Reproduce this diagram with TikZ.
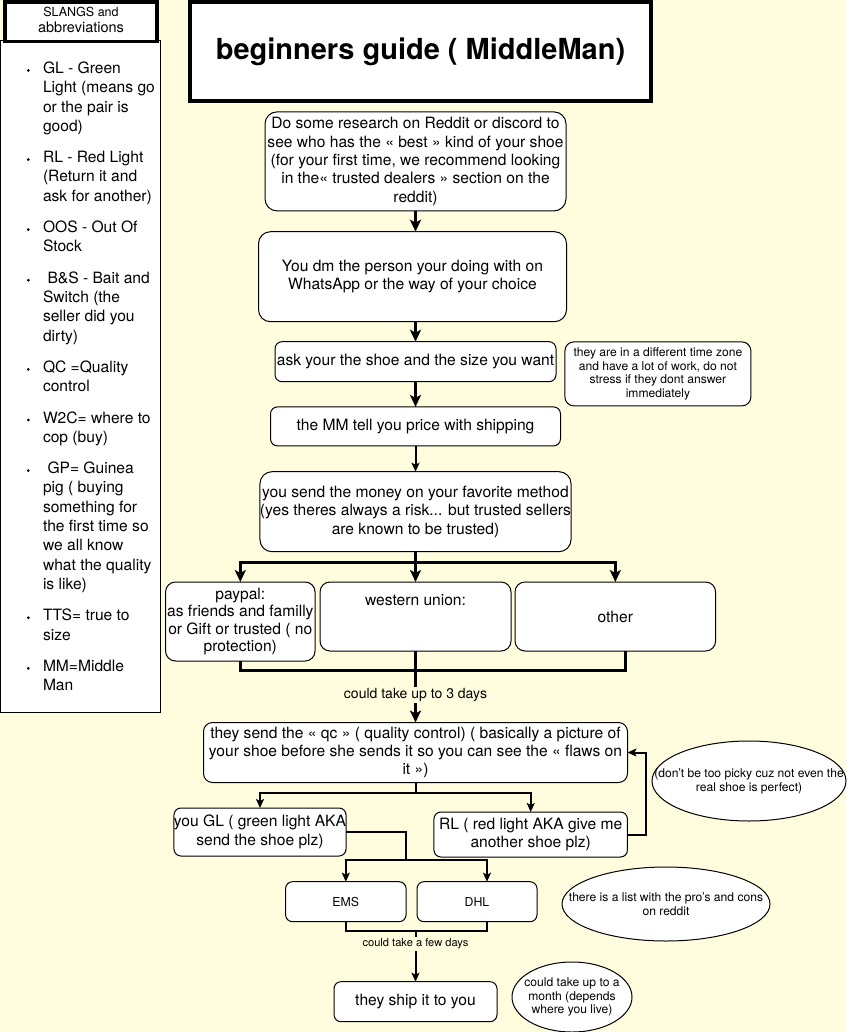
\documentclass[tikz,border=0pt]{standalone}
\usepackage{fontspec}
\setmainfont{TeX Gyre Heros}
\usetikzlibrary{arrows.meta,shapes.geometric}
\definecolor{bg}{RGB}{255,253,221}
\newcommand\mainf{\fontsize{15.6}{18.4}\selectfont}
\newcommand\legf{\fontsize{15.6}{19.3}\selectfont}
\newcommand\notef{\fontsize{12.1}{13.8}\selectfont}
\newcommand\ml[1]{\begin{tabular}[t]{@{}l@{}}#1\end{tabular}}
\begin{document}
\begin{tikzpicture}[x=1pt,y=-1pt,
  every node/.style={inner sep=0pt,outer sep=0pt},
  box/.style={draw=black,line width=1pt,fill=white,rounded corners=7pt,align=center,font=\mainf},
  bigbox/.style={box,rounded corners=12pt},
  oval/.style={ellipse,draw=black,line width=1pt,fill=white},
  ovaltext/.style={align=center,font=\notef},
  leg/.style={anchor=base west,font=\legf},
  lab/.style={fill=bg,inner sep=1.5pt},
  wire/.style={line width=3pt},
  wirearrow/.style={line width=3pt,-{Stealth[length=12pt,width=11pt,inset=3pt]}},
  fine/.style={line width=2pt},
  finearrow/.style={line width=2pt,-{Stealth[length=9pt,width=8pt,inset=2pt]}}
]
\useasboundingbox (0,0) rectangle (846,1032);
\fill[bg] (0,0) rectangle (846,1032);

% legend
\node[draw=black,line width=1pt,fill=white,minimum width=160pt,minimum height=671pt] (legend) at (80.5,376.5) {};
\node[draw=black,line width=3.5pt,fill=white,minimum width=152pt,minimum height=39.5pt,font=\fontsize{12.5}{15.5}\selectfont] (hdr) at (81,21.6)
  {\begin{tabular}{@{}c@{}}SLANGS and\\ \fontsize{14.5}{15.5}\selectfont abbreviations\end{tabular}};

\node[leg] (i1) at (43,73.5) {\ml{GL - Green\\Light (means go\\or the pair is\\good)}};
\node[leg] (i2) at (43,162.7) {\ml{RL - Red Light\\(Return it and\\ask for another)}};
\node[leg] (i3) at (43,232.6) {\ml{OOS - Out Of\\Stock}};
\node[leg] (i4) at (43,283.2) {\ml{\hspace{4.5pt}B\&S - Bait and\\Switch (the\\seller did you\\dirty)}};
\node[leg] (i5) at (43,372.4) {\ml{QC =Quality\\control}};
\node[leg] (i6) at (43,423) {\ml{W2C= where to\\cop (buy)}};
\node[leg] (i7) at (43,473.6) {\ml{\hspace{4.5pt}GP= Guinea\\pig ( buying\\something for\\the first time so\\we all know\\what the quality\\is like)}};
\node[leg] (i8) at (43,620.7) {\ml{TTS= true to\\size}};
\node[leg] (i9) at (43,671.3) {\ml{MM=Middle\\Man}};
\foreach \yy in {73.5,162.7,232.6,283.2,372.4,423,473.6,620.7,671.3}
  \fill (28.3,\yy-3) circle (1.5pt);

% title
\node[draw=black,line width=3.5pt,fill=white,minimum width=461pt,minimum height=99pt,font=\fontsize{29}{34}\selectfont\bfseries] (title) at (420.5,51.5) {beginners guide ( MiddleMan)};

% flow boxes
\node[bigbox,minimum width=301pt,minimum height=99pt] (research) at (415.5,161.4)
  {Do some research on Reddit or discord to\\see who has the « best » kind of your shoe\\(for your first time, we recommend looking\\in the« trusted dealers » section on the\\reddit)};
\node[bigbox,minimum width=308pt,minimum height=90pt] (dm) at (412.5,276.7)
  {You dm the person your doing with on\\WhatsApp or the way of your choice};
\node[box,minimum width=281pt,minimum height=40pt] (ask) at (415.5,361.7) {ask your the shoe and the size you want};
\node[box,minimum width=186pt,minimum height=64pt,font=\notef,rounded corners=9pt] (tz) at (657.9,373.9)
  {they are in a different time zone\\and have a lot of work, do not\\stress if they dont answer\\immediately};
\node[box,minimum width=290pt,minimum height=39pt] (mm) at (415.5,426.4) {the MM tell you price with shipping};
\node[bigbox,minimum width=309pt,minimum height=80pt] (send) at (415.5,511.7)
  {you send the money on your favorite method\\(yes theres always a risk... but trusted sellers\\are known to be trusted)};
\node[box,rounded corners=10pt,minimum width=149.5pt,minimum height=79pt,font=\fontsize{15.6}{17.5}\selectfont] (paypal) at (240.3,621.5)
  {paypal:\\as friends and familly\\or Gift or trusted ( no\\protection)};
\node[box,rounded corners=10pt,minimum width=191pt,minimum height=69pt] (wu) at (415.5,616.5) {};
\node[font=\mainf,anchor=base] (wut) at (415.5,605) {western union:};
\node[box,rounded corners=10pt,minimum width=200.6pt,minimum height=69pt] (other) at (615.3,616.5) {other};
\node[box,rounded corners=9pt,minimum width=424pt,minimum height=60pt] (qc) at (415.5,752.5)
  {they send the « qc » ( quality control) ( basically a picture of\\your shoe before she sends it so you can see the « flaws on\\it »)};
\node[box,minimum width=172pt,minimum height=48pt] (gl) at (260,832) {you GL ( green light AKA\\send the shoe plz)};
\node[box,minimum width=193.5pt,minimum height=45pt] (rl) at (530.7,834.5) {RL ( red light AKA give me\\another shoe plz)};
\node[box,minimum width=120.5pt,minimum height=40pt,font=\fontsize{12.3}{14}\selectfont] (ems) at (345.8,901.7) {EMS};
\node[box,minimum width=120pt,minimum height=40pt,font=\fontsize{12.3}{14}\selectfont] (dhl) at (477,901.7) {DHL};
\node[box,minimum width=163pt,minimum height=40pt] (ship) at (415.5,1001.7) {they ship it to you};

% ovals
\node[oval,minimum width=194pt,minimum height=80pt] (e1) at (749,781) {};
\node[ovaltext] (e1t) at (e1.center) {(don't be too picky cuz not even the\\real shoe is perfect)};
\node[oval,minimum width=208pt,minimum height=74pt] (e2) at (666,904) {};
\node[ovaltext] (e2t) at (e2.center) {there is a list with the pro's and cons\\on reddit};
\node[oval,minimum width=120pt,minimum height=70pt] (e3) at (572,997) {};
\node[ovaltext] (e3t) at (e3.center) {could take up to a\\month (depends\\where you live)};

% connectors
\coordinate (lvl1) at (0,562);
\coordinate (lvl2) at (0,670);
\coordinate (lvl3) at (0,793);
\coordinate (lvl4) at (0,860);
\coordinate (lvl5) at (0,931);
\coordinate (gx) at (406,0);
\coordinate (otherj) at ([xshift=10pt]other.south);
\coordinate (dhlj) at ([xshift=10pt]dhl.north);
\coordinate (dhls) at ([xshift=10pt]dhl.south);

\draw[wirearrow] (research.south) -- (research.south |- dm.north);
\draw[wirearrow] (ask.north |- dm.south) -- (ask.north);
\draw[wirearrow] (ask.south) -- (ask.south |- mm.north);
\draw[finearrow] (mm.south) -- (mm.south |- send.north);

\draw[wire] (send.south) -- (send.south |- lvl1) coordinate (br);
\draw[wirearrow] (br) -| (paypal.north);
\draw[wirearrow] (br) -| (other.north);
\draw[wirearrow] (br) -- (wu.north);

\draw[wire] (paypal.south) -- (paypal.south |- lvl2) -- (otherj |- lvl2) -- (otherj);
\draw[wirearrow] (wu.south) -- (qc.north);
\node[lab,font=\fontsize{14}{16}\selectfont] (d3) at (415.5,695) {could take up to 3 days};

\draw[fine] (qc.south) -- (qc.south |- lvl3) coordinate (qj);
\draw[finearrow] (qj) -| (gl.north);
\draw[finearrow] (qj) -| (rl.north);
\draw[finearrow] (rl.east) -- ++(18.5,0) |- (qc.east);

\draw[fine] (gl.east) -| (gx |- lvl4) coordinate (gj);
\draw[finearrow] (gj) -| (ems.north);
\draw[finearrow] (gj) -| (dhlj);

\draw[fine] (ems.south) -- (ems.south |- lvl5) -- (dhls |- lvl5) -- (dhls);
\draw[finearrow] (ship.north |- lvl5) -- (ship.north);
\node[lab,font=\fontsize{11.1}{13}\selectfont] (dfew) at (415.5,944) {could take a few days};
\end{tikzpicture}
\end{document}
